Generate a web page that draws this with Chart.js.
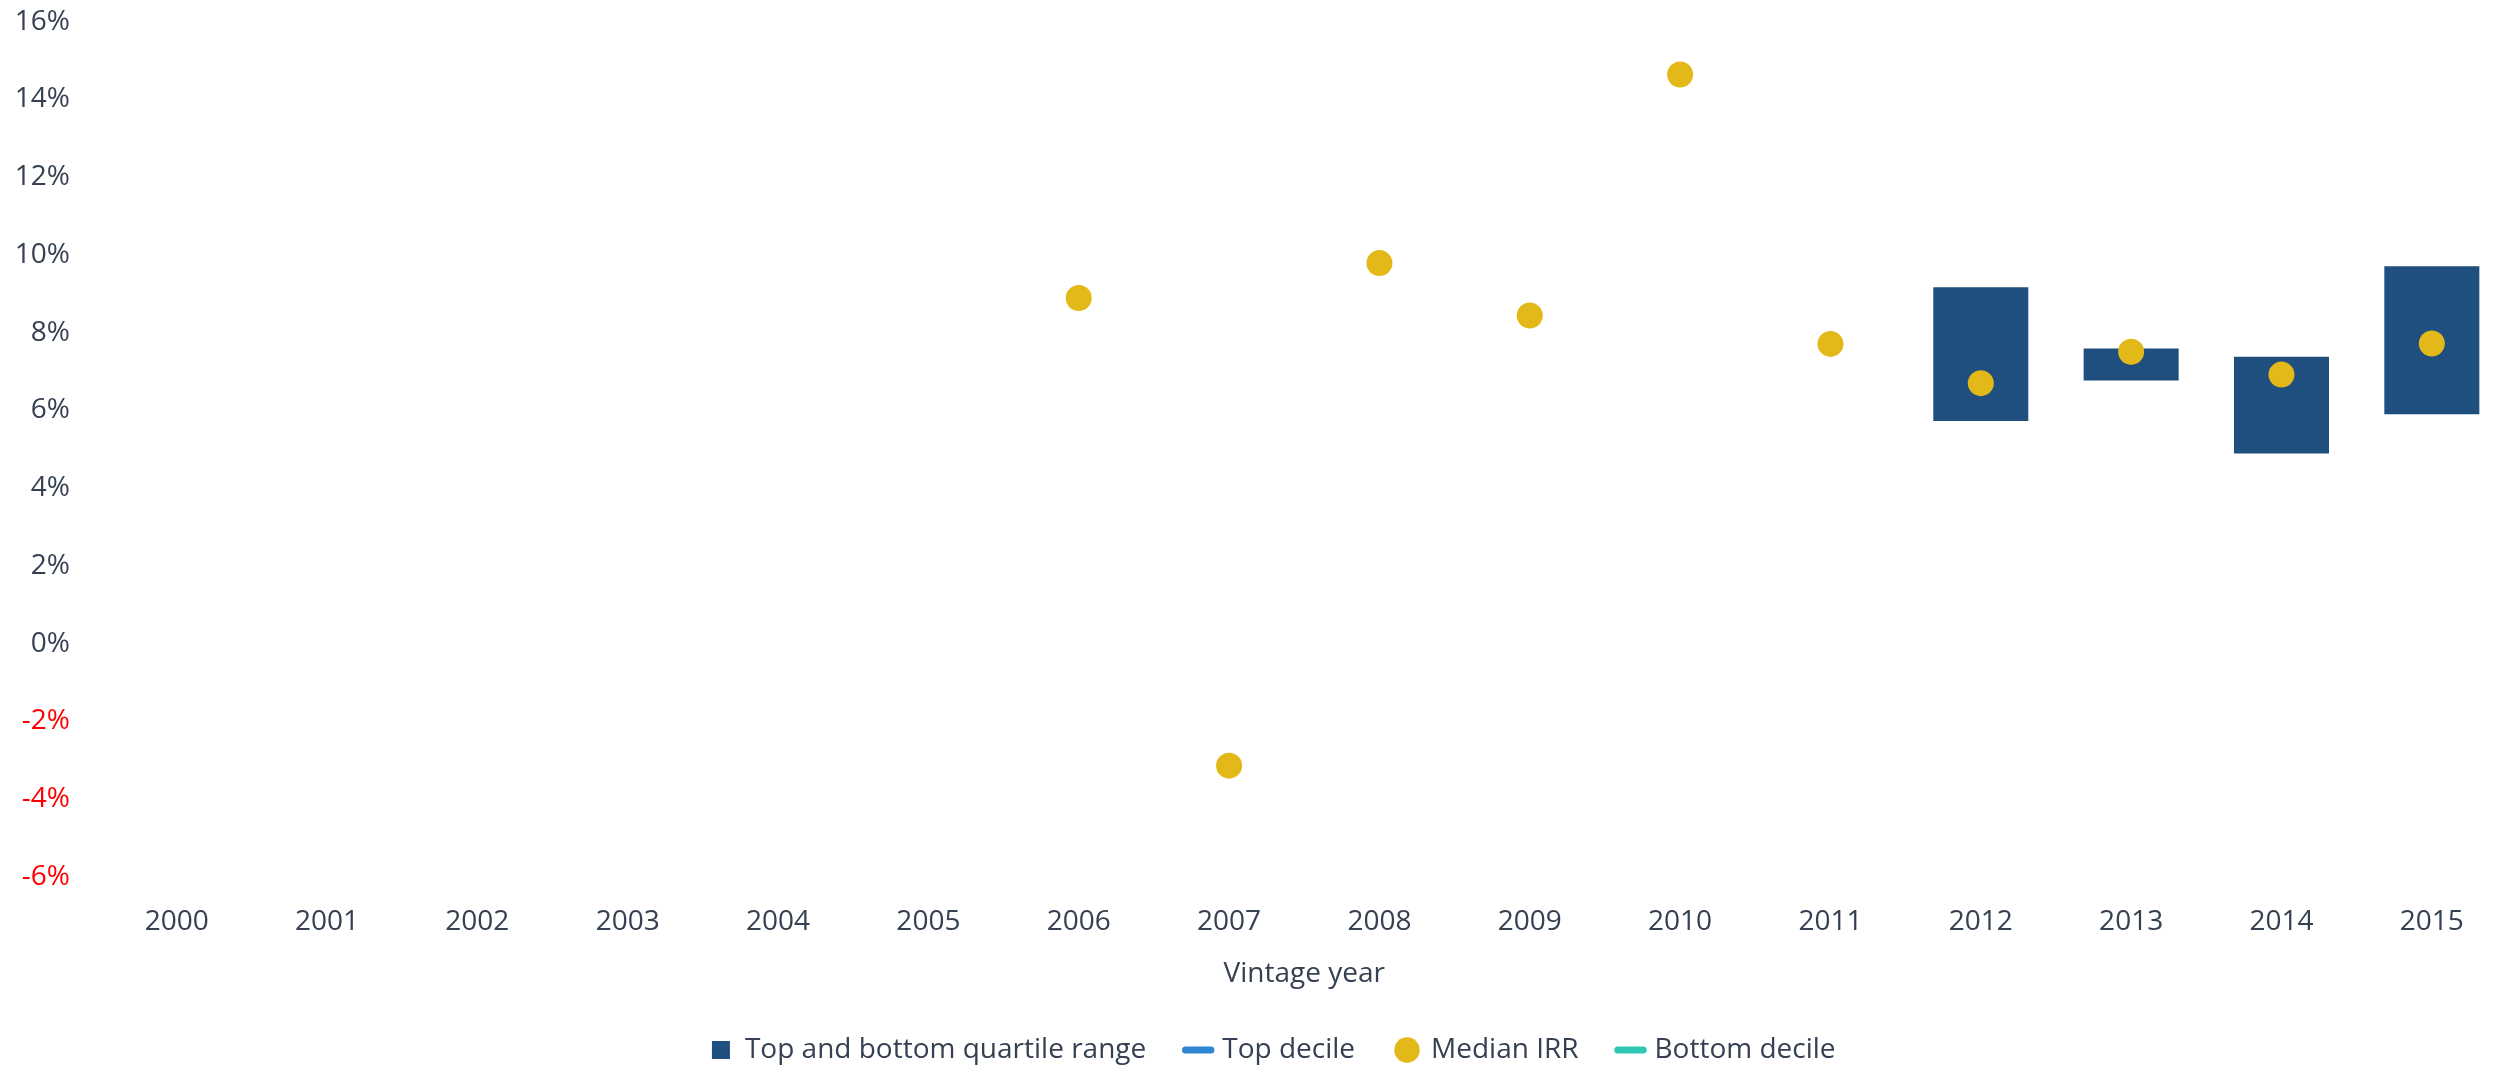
<!DOCTYPE html>
<html>
<head>
<meta charset="utf-8">
<script src="https://cdn.jsdelivr.net/npm/chart.js@4.4.1/dist/chart.umd.min.js"></script>
<style>
  html, body { margin: 0; padding: 0; background: #ffffff; overflow: hidden; }
  #wrap { width: 2497px; height: 1066px; overflow: hidden; position: relative; }
  canvas { display: block; }
</style>
</head>
<body>
<div id="wrap"><canvas id="c" width="2520" height="1066"></canvas></div>
<script>
const categories = ['2000','2001','2002','2003','2004','2005','2006','2007','2008','2009','2010','2011','2012','2013','2014','2015'];
const quartileLow  = [null,null,null,null,null,null,null,null,null,null,null,null,5.73,6.77,4.89,5.90];
const quartileHigh = [null,null,null,null,null,null,null,null,null,null,null,null,9.17,7.59,7.38,9.71];
const topDecile    = [null,null,null,null,null,null,null,null,null,null,null,null,null,null,null,null];
const medianIRR    = [null,null,null,null,null,null,8.89,-3.14,9.79,8.44,14.64,7.71,6.70,7.51,6.92,7.72];
const bottomDecile = [null,null,null,null,null,null,null,null,null,null,null,null,null,null,null,null];
const yTicks = [-6,-4,-2,0,2,4,6,8,10,12,14,16];

const TEXT = '#354152';
const FONT = "'Open Sans', 'Noto Sans', sans-serif";

const quartileRange = quartileLow.map((lo, i) => (lo === null || quartileHigh[i] === null) ? null : [lo, quartileHigh[i]]);

const shiftLegend = {
  id: 'shiftLegend',
  afterLayout(chart) {
    if (chart.legend) { chart.legend.left += 19; chart.legend.right += 19; }
  }
};

new Chart(document.getElementById('c'), {
  plugins: [shiftLegend],
  data: {
    labels: categories,
    datasets: [
      {
        type: 'bar',
        label: 'Top and bottom quartile range',
        data: quartileRange,
        backgroundColor: '#1f4f7e',
        borderWidth: 0,
        categoryPercentage: 1.0,
        barPercentage: 0.632,
        order: 2
      },
      {
        type: 'line',
        label: 'Top decile',
        data: topDecile,
        borderColor: '#2e86d0',
        backgroundColor: '#2e86d0',
        showLine: false,
        pointRadius: 0,
        order: 1
      },
      {
        type: 'line',
        label: 'Median IRR',
        data: medianIRR,
        borderColor: '#e2b918',
        backgroundColor: '#e2b918',
        showLine: false,
        pointRadius: 13,
        pointHoverRadius: 13,
        pointBorderWidth: 0,
        order: 0
      },
      {
        type: 'line',
        label: 'Bottom decile',
        data: bottomDecile,
        borderColor: '#2ec7b4',
        backgroundColor: '#2ec7b4',
        showLine: false,
        pointRadius: 0,
        order: 1
      }
    ]
  },
  options: {
    responsive: false,
    animation: false,
    devicePixelRatio: 1,
    layout: { padding: { left: 0, right: 11.5, top: 21.7, bottom: -8 } },
    plugins: {
      tooltip: { enabled: false },
      legend: {
        position: 'bottom',
        align: 'center',
        labels: {
          font: { family: FONT, size: 28 },
          color: TEXT,
          padding: 42,
          boxWidth: 20,
          boxHeight: 18,
          usePointStyle: true,
          generateLabels: (chart) => {
            const ds = chart.data.datasets;
            return [
              { text: ds[0].label, fillStyle: '#1f4f7e', strokeStyle: '#1f4f7e', lineWidth: 0, pointStyle: 'rect', datasetIndex: 0, fontColor: TEXT },
              { text: ds[1].label, fillStyle: '#2e86d0', strokeStyle: '#2e86d0', lineWidth: 7, lineCap: 'round', pointStyle: 'line', datasetIndex: 1, fontColor: TEXT },
              { text: ds[2].label, fillStyle: '#e2b918', strokeStyle: '#e2b918', lineWidth: 0, pointStyle: 'circle', datasetIndex: 2, fontColor: TEXT },
              { text: ds[3].label, fillStyle: '#2ec7b4', strokeStyle: '#2ec7b4', lineWidth: 7, lineCap: 'round', pointStyle: 'line', datasetIndex: 3, fontColor: TEXT }
            ];
          }
        }
      }
    },
    scales: {
      x: {
        type: 'category',
        offset: true,
        grid: { display: false, drawTicks: false },
        border: { display: false },
        ticks: {
          font: { family: FONT, size: 28 },
          color: TEXT,
          padding: 28,
          maxRotation: 0,
          autoSkip: false
        },
        title: {
          display: true,
          text: 'Vintage year',
          font: { family: FONT, size: 28 },
          color: TEXT,
          padding: { top: -9, bottom: 3 }
        }
      },
      y: {
        type: 'linear',
        min: yTicks[0],
        max: yTicks[yTicks.length - 1],
        afterBuildTicks: (s) => { s.ticks = yTicks.map(v => ({ value: v })); },
        afterFit: (s) => { s.width = 101.5; s.paddingTop = 0; s.paddingBottom = 0; },
        grid: { display: false, drawTicks: false },
        border: { display: false },
        ticks: {
          font: { family: FONT, size: 28 },
          color: (ctx) => (ctx.tick && ctx.tick.value < 0) ? '#ff0000' : TEXT,
          padding: 31.5,
          callback: (v) => v + '%'
        }
      }
    }
  }
});
</script>
</body>
</html>
